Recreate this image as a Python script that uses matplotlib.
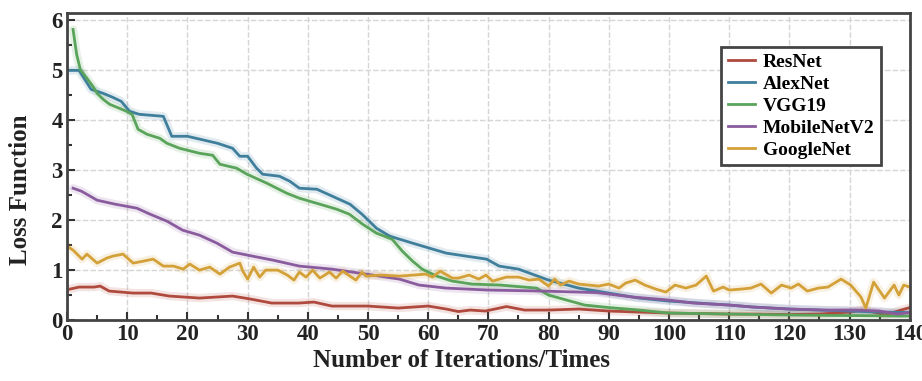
import matplotlib.pyplot as plt
from matplotlib.ticker import MultipleLocator

plt.rcParams['font.family'] = ['Liberation Serif', 'DejaVu Serif']
plt.rcParams['font.weight'] = 'bold'

# data (iteration, loss)
resnet_x = [0.5, 2, 4.5, 5.5, 7, 11, 14, 17, 22, 27.5, 30.5, 34, 38.5, 41, 44, 50, 55, 60, 63, 65,
            67, 69.5, 73, 76, 80, 85, 90, 95, 100, 105, 110, 115, 120, 125, 130, 132, 134, 136, 138, 140]
resnet_y = [0.62, 0.66, 0.66, 0.68, 0.58, 0.54, 0.54, 0.48, 0.44, 0.48, 0.42, 0.34, 0.34, 0.36, 0.28, 0.28, 0.24, 0.28, 0.22, 0.17,
            0.2, 0.18, 0.27, 0.2, 0.2, 0.22, 0.18, 0.16, 0.14, 0.13, 0.12, 0.12, 0.11, 0.12, 0.16, 0.2, 0.16, 0.1, 0.18, 0.25]

alex_x = [0.5, 2, 4, 6, 7.6, 9, 10.4, 12, 16, 17.4, 20, 25, 27.5, 28.7, 30, 31.5, 32.5, 35.3, 37, 38.6,
          41.5, 44.8, 47, 49, 51.4, 53.6, 57.4, 60.2, 63, 66.3, 69.7, 71.8, 75, 80, 85, 90, 95, 100, 105, 110,
          114, 120, 125, 130, 135, 140]
alex_y = [5.0, 5.0, 4.62, 4.54, 4.46, 4.38, 4.18, 4.12, 4.08, 3.68, 3.68, 3.54, 3.44, 3.28, 3.28, 3.04, 2.92, 2.88, 2.78, 2.64,
          2.62, 2.44, 2.32, 2.12, 1.84, 1.68, 1.54, 1.44, 1.34, 1.28, 1.22, 1.08, 1.02, 0.8, 0.64, 0.54, 0.44, 0.38, 0.34, 0.3,
          0.26, 0.22, 0.2, 0.18, 0.16, 0.15]

vgg_x = [1, 1.6, 2.2, 3.3, 4.3, 5, 6, 7.1, 9.9, 10.8, 11.8, 13.3, 15.4, 16.6, 18.7, 22, 24.2, 25.4, 28.2, 29.9,
         33.2, 36.5, 38.6, 42, 44.8, 46.9, 49.1, 51.4, 54, 55.7, 57.4, 59, 61.4, 64, 67.3, 72, 78, 80, 83, 86,
         90, 95, 100, 110, 120, 130, 140]
vgg_y = [5.82, 5.32, 5.02, 4.84, 4.68, 4.54, 4.42, 4.32, 4.18, 4.12, 3.82, 3.72, 3.64, 3.54, 3.44, 3.34, 3.3, 3.12, 3.04, 2.92,
         2.74, 2.54, 2.44, 2.32, 2.22, 2.12, 1.92, 1.74, 1.62, 1.38, 1.18, 1.02, 0.88, 0.78, 0.72, 0.7, 0.64, 0.5, 0.4, 0.3,
         0.25, 0.2, 0.14, 0.12, 0.1, 0.09, 0.08]

mobile_x = [1, 2.4, 5, 8, 11.6, 13.8, 16.6, 19.2, 22, 24.9, 27.5, 30.8, 34.2, 38.6, 44, 49.7, 55.2, 58.5, 63, 70,
            79, 88, 94, 100, 104, 110, 114, 120, 126, 131, 135, 138, 140]
mobile_y = [2.64, 2.58, 2.4, 2.32, 2.24, 2.12, 1.98, 1.8, 1.7, 1.54, 1.36, 1.28, 1.2, 1.08, 1.02, 0.92, 0.82, 0.7, 0.64, 0.6,
            0.58, 0.55, 0.46, 0.4, 0.34, 0.3, 0.26, 0.22, 0.2, 0.2, 0.18, 0.12, 0.15]

google_x = [0, 1, 2.5, 3.3, 5, 6.6, 7.6, 9.3, 11, 12.7, 14.3, 16, 17.7, 19.3, 20.4, 22, 23.7, 25.4, 27, 28.7,
            29.2, 30, 31, 32, 33, 35, 36.6, 37.7, 38.6, 39.7, 40.8, 42, 43.6, 44.7, 45.8, 47, 48, 49, 49.7, 52,
            55.2, 57.5, 59.6, 60.7, 62, 64, 65, 66.8, 68.4, 69.6, 70.7, 73, 75, 76.8, 78.4, 80, 81, 82, 83.4, 85,
            86.7, 88.3, 90, 91.7, 92.8, 94.4, 96, 97.8, 99.5, 101, 102.8, 104.5, 106.2, 107.4, 109, 110, 112, 113.6, 115.3, 117,
            118.7, 120.3, 121.5, 123, 124.8, 126.4, 128.6, 130.2, 131.9, 132.7, 134, 135.8, 137.4, 138.2, 139, 140]
google_y = [1.48, 1.4, 1.22, 1.32, 1.14, 1.24, 1.28, 1.32, 1.14, 1.18, 1.22, 1.08, 1.08, 1.02, 1.12, 1.0, 1.06, 0.92, 1.06, 1.14,
            0.98, 0.82, 1.06, 0.86, 1.0, 1.0, 0.9, 0.8, 0.96, 0.86, 1.0, 0.84, 0.96, 0.84, 0.98, 0.88, 0.8, 0.96, 0.88, 0.9,
            0.88, 0.9, 0.92, 0.86, 0.98, 0.84, 0.84, 0.9, 0.82, 0.9, 0.78, 0.86, 0.86, 0.8, 0.82, 0.68, 0.82, 0.7, 0.78, 0.72,
            0.7, 0.68, 0.72, 0.64, 0.74, 0.8, 0.7, 0.62, 0.56, 0.7, 0.64, 0.7, 0.88, 0.58, 0.66, 0.6, 0.62, 0.64, 0.72, 0.54,
            0.7, 0.64, 0.72, 0.58, 0.64, 0.66, 0.82, 0.7, 0.46, 0.24, 0.76, 0.44, 0.7, 0.5, 0.7, 0.66]

series = [
    ("ResNet", resnet_x, resnet_y, "#b04a3e"),
    ("AlexNet", alex_x, alex_y, "#3f7f9c"),
    ("VGG19", vgg_x, vgg_y, "#5aa35a"),
    ("MobileNetV2", mobile_x, mobile_y, "#8a5c9e"),
    ("GoogleNet", google_x, google_y, "#d4a038"),
]

fig = plt.figure(figsize=(9.22, 3.81), dpi=100)
ax = fig.add_axes([0.0727, 0.16, 0.914, 0.806])

# soft halo under each line, like the blurred original
for name, xs, ys, c in series:
    ax.plot(xs, ys, color=c, lw=6, alpha=0.15, solid_capstyle='round')
for name, xs, ys, c in series:
    ax.plot(xs, ys, color=c, lw=2.0, label=name)

ax.set_xlim(0, 140)
ax.set_ylim(0, 6.15)
ax.xaxis.set_major_locator(MultipleLocator(10))
ax.xaxis.set_minor_locator(MultipleLocator(5))
ax.yaxis.set_major_locator(MultipleLocator(1))
ax.yaxis.set_minor_locator(MultipleLocator(0.5))
ax.grid(True, which='major', color='#d6d6d6', lw=1.0, ls=(0, (4, 1.5)))
ax.set_axisbelow(True)

ax.tick_params(which='both', direction='in', colors='#333333', labelsize=16.5, width=1.5)
ax.tick_params(which='major', length=6, pad=3)
ax.tick_params(which='minor', length=3.5)
for lab in ax.get_xticklabels() + ax.get_yticklabels():
    lab.set_fontweight('bold')
    lab.set_color('#222222')
for sp in ax.spines.values():
    sp.set_linewidth(2)
    sp.set_color('#444444')

ax.set_xlabel("Number of Iterations/Times", fontsize=18, fontweight='bold', color='#222222')
ax.xaxis.set_label_coords(0.468, -0.095)
ax.set_ylabel("Loss Function", fontsize=18, fontweight='bold', color='#222222')
ax.yaxis.set_label_coords(-0.042, 0.423)

leg = ax.legend(loc='upper right', bbox_to_anchor=(0.978, 0.922), handlelength=1.4,
                handletextpad=0.4, labelspacing=0.22, borderpad=0.35, fancybox=False, framealpha=1,
                prop={'weight': 'bold', 'size': 14})
leg.get_frame().set_edgecolor('#444444')
leg.get_frame().set_linewidth(2)

fig.savefig('out.png', dpi=100)
